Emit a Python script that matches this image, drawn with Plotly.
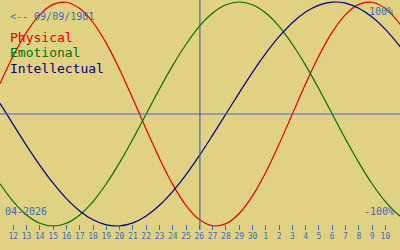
import plotly.graph_objects as go

# Dates (day positions) from Apr 11 to May 12 2026
DATES = ["2026-04-%02d" % d for d in range(11, 31)] + ["2026-05-%02d" % d for d in range(1, 13)]

PHYSICAL = [27.0, 52.0, 73.1, 88.8, 97.9, 99.8, 94.2, 81.7, 63.1, 39.8, 13.6, -13.6,
            -39.8, -63.1, -81.7, -94.2, -99.8, -97.9, -88.8, -73.1, -52.0, -27.0, 0.0,
            27.0, 52.0, 73.1, 88.8, 97.9, 99.8, 94.2, 81.7, 63.1]
EMOTIONAL = [-62.3, -78.2, -90.1, -97.5, -100.0, -97.5, -90.1, -78.2, -62.3, -43.4, -22.3, 0.0,
             22.3, 43.4, 62.3, 78.2, 90.1, 97.5, 100.0, 97.5, 90.1, 78.2, 62.3, 43.4,
             22.3, 0.0, -22.3, -43.4, -62.3, -78.2, -90.1, -97.5]
INTELLECTUAL = [9.5, -9.5, -28.2, -45.8, -61.8, -75.6, -86.6, -94.5, -99.0, -99.9, -97.2, -91.0,
                -81.5, -69.0, -54.1, -37.2, -18.9, 0.0, 18.9, 37.2, 54.1, 69.0, 81.5, 91.0,
                97.2, 99.9, 99.0, 94.5, 86.6, 75.6, 61.8, 45.8]

TICK_DATES = DATES[1:30]
TICK_LABELS = [str(d) for d in range(12, 31)] + [str(d) for d in range(1, 11)]

TODAY = "2026-04-26 01:00"
BIRTH_LABEL = "<-- 09/09/1981"
MONTH_LABEL = "04-2026"
SERIES_NAMES = ["Physical", "Emotional", "Intellectual"]
TOP_LABEL = "100%"
BOTTOM_LABEL = "-100%"

BG = "#E0D282"
BLUE = "#3A6CBC"
COLORS = ["#E00000", "#007000", "#000080"]
FONT = "DejaVu Sans Mono"

W, H, PLOT_H = 400, 250, 230

fig = go.Figure()
for name, vals, col in zip(SERIES_NAMES, [PHYSICAL, EMOTIONAL, INTELLECTUAL], COLORS):
    fig.add_trace(go.Scatter(x=DATES, y=vals, mode="lines", name=name,
                             line=dict(color=col, width=1.2, shape="spline", smoothing=1.0),
                             hoverinfo="skip"))

fig.add_shape(type="line", xref="x", yref="paper", x0=TODAY, x1=TODAY, y0=0, y1=1,
              line=dict(color=BLUE, width=1.2))
fig.add_shape(type="line", xref="paper", yref="y", x0=0, x1=1, y0=0, y1=0,
              line=dict(color=BLUE, width=1.2))

def px2y(py):
    return 1 - py / PLOT_H

def ann(text, xpx, ypx, color, size, xanchor="left"):
    fig.add_annotation(text=text, x=xpx / W, y=px2y(ypx), xref="paper", yref="paper",
                       xanchor=xanchor, yanchor="middle", showarrow=False,
                       font=dict(family=FONT, size=size, color=color), borderpad=0)

ann(BIRTH_LABEL, 9, 16.5, BLUE, 10)
ann(SERIES_NAMES[0], 9, 37.5, COLORS[0], 13)
ann(SERIES_NAMES[1], 9, 52.8, COLORS[1], 13)
ann(SERIES_NAMES[2], 9, 68.1, COLORS[2], 13)
ann(TOP_LABEL, 394, 11.5, BLUE, 10, "right")
ann(BOTTOM_LABEL, 395, 211.5, BLUE, 10, "right")
ann(MONTH_LABEL, 4, 211.5, BLUE, 10)

fig.update_layout(
    width=W, height=H, margin=dict(l=0, r=0, t=0, b=H - PLOT_H),
    paper_bgcolor=BG, plot_bgcolor=BG, showlegend=False,
    xaxis=dict(type="date", range=["2026-04-11", "2026-05-11 02:24"],
               tickvals=TICK_DATES, ticktext=TICK_LABELS,
               ticks="inside", ticklen=5, tickwidth=1, tickcolor=BLUE,
               tickfont=dict(family=FONT, size=8, color=BLUE),
               showgrid=False, zeroline=False, showline=False, fixedrange=True),
    yaxis=dict(range=[-103.57, 101.79], visible=False, showgrid=False,
               zeroline=False, fixedrange=True),
)

fig.write_html("out.html")
